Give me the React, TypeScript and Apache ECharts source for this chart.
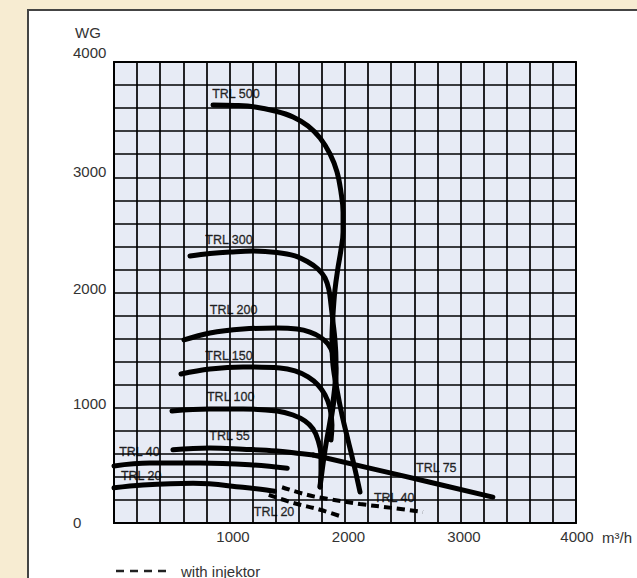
import React, { useEffect, useRef } from "react";
import * as echarts from "echarts";

// ---- Data (x in m³/h, y in WG) ----
const xTicks = [1000, 2000, 3000, 4000];
const yTicks = [0, 1000, 2000, 3000, 4000];

const trl500: number[][] = [
  [857, 3627], [1048, 3623], [1221, 3610], [1394, 3575], [1550, 3523], [1680, 3445],
  [1784, 3341], [1870, 3202], [1931, 3046], [1965, 2872], [1983, 2699], [1983, 2525],
  [1965, 2369], [1939, 2213], [1913, 2022], [1896, 1805], [1887, 1588], [1896, 1371],
  [1931, 1154], [1974, 937], [2026, 720], [2078, 503], [2130, 269],
];
const trl300: number[][] = [
  [658, 2317], [831, 2338], [1004, 2351], [1203, 2360], [1411, 2347], [1567, 2317],
  [1680, 2265], [1766, 2204], [1827, 2126], [1861, 2022], [1879, 1892], [1896, 1744],
  [1913, 1588], [1922, 1414], [1913, 1197], [1879, 937], [1827, 633], [1784, 312],
];
const trl200: number[][] = [
  [606, 1588], [831, 1649], [1117, 1683], [1411, 1692], [1584, 1683], [1697, 1657],
  [1784, 1614], [1853, 1553], [1896, 1466], [1922, 1345], [1922, 1197], [1905, 1067],
  [1879, 894],
];
const trl150: number[][] = [
  [580, 1293], [831, 1336], [1117, 1354], [1437, 1345], [1567, 1319], [1680, 1267],
  [1766, 1197], [1827, 1111], [1870, 998], [1887, 850], [1879, 720],
];
const trl100: number[][] = [
  [502, 972], [831, 989], [1117, 989], [1411, 972], [1550, 937], [1654, 885],
  [1723, 816], [1766, 720], [1792, 590], [1792, 460], [1784, 312],
];
const trl55: number[][] = [
  [510, 635], [830, 650], [1115, 640], [1410, 625], [1585, 605], [1725, 590],
];
const trl75: number[][] = [[1725, 590], [2475, 415], [3280, 225]];
const trl40: number[][] = [[0, 495], [310, 520], [745, 520], [1175, 505], [1500, 475]];
const trl20: number[][] = [[0, 305], [250, 330], [685, 345], [1115, 310], [1390, 275]];
const trl40Injector: number[][] = [
  [1455, 310], [1670, 245], [1845, 210], [2130, 165], [2415, 130], [2675, 95],
];
const trl20Injector: number[][] = [[1340, 245], [1550, 175], [1785, 115], [1985, 50]];

const curveLabels: { name: string; x: number; y: number }[] = [
  { name: "TRL 500", x: 850, y: 3720 },
  { name: "TRL 300", x: 790, y: 2455 },
  { name: "TRL 200", x: 830, y: 1850 },
  { name: "TRL 150", x: 790, y: 1450 },
  { name: "TRL 100", x: 805, y: 1095 },
  { name: "TRL 55", x: 825, y: 755 },
  { name: "TRL 40", x: 45, y: 615 },
  { name: "TRL 20", x: 60, y: 410 },
  { name: "TRL 20", x: 1210, y: 95 },
  { name: "TRL 75", x: 2615, y: 475 },
  { name: "TRL 40", x: 2250, y: 215 },
];

const FONT = "'Liberation Sans', Arial, Helvetica, sans-serif";

export default function App() {
  const ref = useRef<HTMLDivElement>(null);

  useEffect(() => {
    if (!ref.current) return;
    const chart = echarts.init(ref.current, undefined, { renderer: "svg" });

    const solid = (name: string, data: number[][]) => ({
      name,
      type: "line",
      data,
      smooth: 0.4,
      symbol: "none",
      z: 5,
      lineStyle: { color: "#000", width: 5, cap: "round", join: "round" },
    });
    const dashed = (name: string, data: number[][]) => ({
      name,
      type: "line",
      data,
      smooth: 0.4,
      symbol: "none",
      z: 5,
      lineStyle: { color: "#000", width: 4, type: [8, 5] },
    });

    const yRich: Record<string, any> = {};
    const yPad: Record<number, number> = { 0: 2, 1000: 8, 2000: 9, 3000: 12, 4000: 20 };
    yTicks.forEach((t) => {
      yRich["y" + t] = {
        fontSize: 15,
        fontFamily: FONT,
        color: "#333",
        padding: [0, 0, yPad[t], 0],
      };
    });
    const xRich: Record<string, any> = {};
    xTicks.forEach((t) => {
      xRich["x" + t] = {
        fontSize: 15,
        fontFamily: FONT,
        color: "#333",
        padding: [0, 0, 0, t === 4000 ? 2 : 7],
      };
    });

    chart.setOption({
      animation: false,
      backgroundColor: "#F7ECD2",
      grid: {
        left: 114,
        top: 62,
        width: 462,
        height: 461,
        show: true,
        backgroundColor: "#E7EBF5",
        borderColor: "#000",
        borderWidth: 1.8,
      },
      xAxis: {
        type: "value",
        min: 0,
        max: 4000,
        interval: 200,
        axisLine: { show: true, lineStyle: { color: "#000", width: 1.8 } },
        axisTick: { show: false },
        splitLine: { show: true, lineStyle: { color: "#000", width: 1.7 } },
        axisLabel: {
          margin: 6,
          fontSize: 15,
          fontFamily: FONT,
          color: "#333",
          formatter: (v: number) => (xTicks.includes(v) ? `{x${v}|${v}}` : ""),
          rich: xRich,
        },
      },
      yAxis: {
        type: "value",
        min: 0,
        max: 4000,
        interval: 200,
        axisLine: { show: true, lineStyle: { color: "#000", width: 1.8 } },
        axisTick: { show: false },
        splitLine: { show: true, lineStyle: { color: "#000", width: 1.7 } },
        axisLabel: {
          margin: 41,
          align: "left",
          fontSize: 15,
          fontFamily: FONT,
          color: "#333",
          formatter: (v: number) => (yTicks.includes(v) ? `{y${v}|${v}}` : ""),
          rich: yRich,
        },
      },
      graphic: [
        {
          type: "rect",
          z: -10,
          shape: { x: 28, y: 10, width: 650, height: 600 },
          style: { fill: "#fff", stroke: "#444", lineWidth: 2 },
        },
        {
          type: "text",
          x: 75,
          y: 32,
          style: {
            text: "WG",
            fontSize: 15,
            fontFamily: FONT,
            fill: "#333",
            verticalAlign: "middle",
          },
        },
        {
          type: "text",
          x: 602,
          y: 537,
          style: {
            text: "m³/h",
            fontSize: 15,
            fontFamily: FONT,
            fill: "#333",
            verticalAlign: "middle",
          },
        },
        {
          type: "line",
          shape: { x1: 116, y1: 571, x2: 168, y2: 571 },
          style: { stroke: "#222", lineWidth: 2.5, lineDash: [8, 6] },
        },
        {
          type: "text",
          x: 181,
          y: 571,
          style: {
            text: "with injektor",
            fontSize: 15,
            fontFamily: FONT,
            fill: "#333",
            verticalAlign: "middle",
          },
        },
      ],
      series: [
        solid("TRL 500", trl500),
        solid("TRL 300", trl300),
        solid("TRL 200", trl200),
        solid("TRL 150", trl150),
        solid("TRL 100", trl100),
        solid("TRL 55", trl55),
        solid("TRL 75", trl75),
        solid("TRL 40", trl40),
        solid("TRL 20", trl20),
        dashed("TRL 40 injector", trl40Injector),
        dashed("TRL 20 injector", trl20Injector),
        {
          name: "labels",
          type: "scatter",
          symbolSize: 0,
          z: 10,
          data: curveLabels.map((l) => ({ name: l.name, value: [l.x, l.y] })),
          label: {
            show: true,
            position: "right",
            distance: 0,
            formatter: (p: any) => p.name,
            fontSize: 12.5,
            fontFamily: FONT,
            color: "#000",
            textBorderColor: "#000",
            textBorderWidth: 0.35,
          },
        },
      ],
    });

    return () => chart.dispose();
  }, []);

  return (
    <div
      ref={ref}
      style={{ position: "absolute", left: 0, top: 0, width: 637, height: 578 }}
    />
  );
}
